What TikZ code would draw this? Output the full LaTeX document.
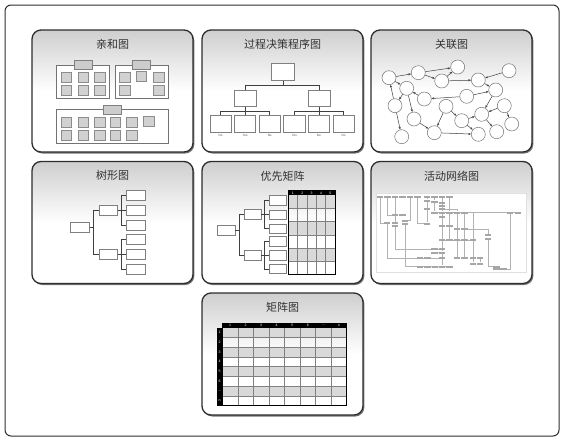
\documentclass[tikz,border=0pt]{standalone}
\usepackage{fontspec}
\setmainfont{Liberation Sans}
\newfontfamily\cjk{Noto Sans CJK SC}
\usepackage{tikz}
\usetikzlibrary{arrows.meta, positioning, shadows}
\definecolor{gristitre}{RGB}{50,50,50}
\definecolor{grisbord}{RGB}{45,45,45}

\begin{document}
\begin{tikzpicture}[x=1pt, y=-1pt,
		>=Stealth,
		cadre/.style={draw=grisbord, line width=1.3pt, rounded corners=9pt,
			top color=black!19, bottom color=white, middle color=white,
			drop shadow={shadow xshift=1.3pt, shadow yshift=-1.5pt, fill=black!55, opacity=1},
			minimum width=161pt, minimum height=122pt},
		titre/.style={font=\cjk\fontsize{11}{13}\selectfont, text=gristitre, inner sep=0pt},
		groupe/.style={draw=black!55, fill=white, line width=0.6pt, inner sep=0pt},
		entete/.style={draw=black!50, fill=black!20, line width=0.5pt,
			minimum width=18pt, minimum height=9pt, inner sep=0pt},
		carre/.style={draw=black!45, fill=black!18, line width=0.5pt,
			minimum width=10.5pt, minimum height=10pt, inner sep=0pt},
		boite/.style={draw=black!50, fill=white, line width=0.6pt, inner sep=0pt},
		lien/.style={draw=black!75, line width=0.6pt},
		etiq/.style={font=\fontsize{3}{3.5}\selectfont, text=black!70, inner sep=0pt},
		rond/.style={circle, draw=black!55, fill=white, line width=0.5pt,
			minimum size=14pt, inner sep=0pt},
		fleche/.style={-{Stealth[length=2.8pt, width=2.2pt]}, draw=black!75, line width=0.5pt},
		act/.style={fill=black!35, minimum width=6.4pt, minimum height=2pt, inner sep=0pt},
		fil/.style={draw=black!30, line width=0.3pt},
		grille/.style={draw=black!50, line width=0.4pt},
		num/.style={font=\fontsize{3.5}{4}\selectfont, text=white, inner sep=0pt}
		]
		\useasboundingbox (0,0) rectangle (563,442);
		\draw[draw=grisbord, line width=1pt, rounded corners=6pt] (5,5) rectangle (559,436);
		
		% Les cadres
		\node[cadre] (pA) at (112.5,91) {};
		\node[cadre] (pB) at (282.5,91) {};
		\node[cadre] (pC) at (451.5,91) {};
		\node[cadre] (pD) at (112.5,222.5) {};
		\node[cadre] (pE) at (282.5,222.5) {};
		\node[cadre] (pF) at (451.5,222.5) {};
		\node[cadre] (pG) at (282.5,354) {};
		\foreach \p/\t in {pA/亲和图, pB/过程决策程序图, pC/关联图, pD/树形图,
			pE/优先矩阵, pF/活动网络图, pG/矩阵图}
		\node[titre] (t\p) at ([yshift=-15pt]\p.north) {\t};
		
		% Affinites
		\node[groupe, minimum width=52.6pt, minimum height=33.3pt] (gA) at (83,81.7) {};
		\node[groupe, minimum width=53.3pt, minimum height=33.3pt] (gB) at (141.7,81.7) {};
		\node[groupe, minimum width=111.6pt, minimum height=34pt] (gC) at (112.5,126.7) {};
		\foreach \g in {gA,gB,gC}
		\node[entete] (h\g) at (\g.north) {};
		\foreach \x/\y [count=\i] in {66.3/77.7, 83/77.7, 99.7/77.7, 66.3/90.5, 83/90.5, 99.7/90.5,
			124.7/77.7, 141.3/76.5, 158.8/77.7, 124.7/90.5, 158.8/90.5,
			66.3/122, 83/122, 99.7/122, 115.3/122, 131.7/122, 148.8/121.7,
			66.3/135.3, 83/135.3, 99.7/135.3, 115.3/135.3, 131.7/135.3}
		\node[carre] (k\i) at (\x,\y) {};
		
		% PDPC
		\node[boite, minimum width=22.3pt, minimum height=17pt] (dR) at (282.8,71.8) {};
		\node[boite, minimum width=22.4pt, minimum height=16.7pt] (d1) at (245.5,98.3) {};
		\node[boite, minimum width=22.4pt, minimum height=16.7pt] (d2) at (319.2,98.3) {};
		\foreach \x [count=\i] in {220.5,245.1,269.7,294.3,318.9,343.5}
		\node[boite, minimum width=21.3pt, minimum height=17.3pt] (dF\i) at (\x,123.7) {};
		\foreach \i/\t in {1/No,2/Yes,3/No,4/Yes,5/No,6/No}
		\node[etiq, below=1.5pt of dF\i] (dL\i) {\t};
		\foreach \g in {d1,d2}
		\draw[lien] (dR.south) -- ++(0,4.7) -| (\g.north);
		\foreach \i in {1,2,3}
		\draw[lien] (d1.south) -- ++(0,4.3) -| (dF\i.north);
		\foreach \i in {4,5,6}
		\draw[lien] (d2.south) -- ++(0,4.3) -| (dF\i.north);
		
		% Relations
		\foreach \n/\x/\y in {1/389/77.7, 2/418.3/72.7, 3/457.7/67, 4/441.7/81, 5/509/70.7,
			6/478.3/80, 7/406.7/88.3, 8/395/105.7, 9/424.3/99, 10/446/106.3,
			11/466.7/96.3, 12/495.7/90, 13/414/119, 14/461.7/120.7, 15/481.7/114.3,
			16/504.3/105.7, 17/511.7/124, 18/401.7/136.7, 19/434.3/132.7,
			20/478.3/134.3, 21/496.7/131.7}
		\node[rond] (c\n) at (\x,\y) {};
		\foreach \a/\b in {1/2, 2/3, 2/4, 4/3, 4/6, 5/6, 6/12, 1/7, 8/1, 7/8, 8/18, 7/13,
			9/7, 11/9, 11/12, 12/15, 10/14, 14/15, 10/19, 13/19, 19/20, 16/17,
			14/20, 15/21, 16/15}
		\draw[fleche] (c\a) -- (c\b);
		
		% Arbre
		\node[boite, minimum width=18.6pt, minimum height=9.6pt] (aR) at (80,227.5) {};
		\node[boite, minimum width=18.7pt, minimum height=10pt] (aM1) at (108.3,210.3) {};
		\node[boite, minimum width=18.7pt, minimum height=10pt] (aM2) at (108.3,254.3) {};
		\foreach \y [count=\i] in {195.3,210.3,225.3,239.5,254.3,269}
		\node[boite, minimum width=18.3pt, minimum height=10pt] (aF\i) at (135.8,\y) {};
		\foreach \m in {aM1,aM2}
		\draw[lien] (aR.east) -- ++(4,0) |- (\m.west);
		\foreach \i in {1,2,3}
		\draw[lien] (aM1.east) -- ++(3.3,0) |- (aF\i.west);
		\foreach \i in {4,5,6}
		\draw[lien] (aM2.east) -- ++(3.3,0) |- (aF\i.west);
		
		% Priorites
		\node[boite, minimum width=17.3pt, minimum height=10pt] (qR) at (226.3,230.7) {};
		\node[boite, minimum width=17pt, minimum height=10pt] (qM1) at (252.5,214.3) {};
		\node[boite, minimum width=17pt, minimum height=10pt] (qM2) at (252.5,255.5) {};
		\foreach \y [count=\i] in {200.3,214.7,228.7,241.3,255.3,269}
		\node[boite, minimum width=17pt, minimum height=9.3pt] (qF\i) at (277.5,\y) {};
		\foreach \m in {qM1,qM2}
		\draw[lien] (qR.east) -- ++(4.3,0) |- (\m.west);
		\foreach \i in {1,2,3}
		\draw[lien] (qM1.east) -- ++(3.3,0) |- (qF\i.west);
		\foreach \i in {4,5,6}
		\draw[lien] (qM2.east) -- ++(3.3,0) |- (qF\i.west);
		\foreach \r in {0,2,4}
		\fill[black!15] (288.3,195.3+13.17*\r) rectangle ++(46.7,13.17);
		\foreach \c in {1,...,4}
		\draw[grille] (288.3+9.34*\c,195.3) -- ++(0,79);
		\foreach \r in {1,...,5}
		\draw[grille] (288.3,195.3+13.17*\r) -- ++(46.7,0);
		\fill[black] (288.3,190.7) rectangle (335,195.3);
		\draw[line width=0.8pt] (288.3,190.7) rectangle (335,274.3);
		\foreach \c in {1,...,5}
		\node[num] (qn\c) at (288.3+9.34*\c-4.67,193) {\c};
		
		% Reseau d'activites
		\node[draw=black!12, fill=white, minimum width=150pt, minimum height=79pt,
			inner sep=0pt] (rFond) at (451,232.5) {};
		\foreach \x/\y [count=\i] in {380/196.5, 387.5/196.5, 395/196.5, 402.5/196.5, 410/196.5,
			417.5/196.5, 427/196.5, 434.5/196.5, 442/196.5, 449.5/196.5,
			427/200.5, 434.5/201.5, 442/203, 442/206, 442/209, 427/209,
			434.5/212.5, 442/212.5, 449.5/212.5, 457/212.5, 464.5/212.5,
			395/215, 402.5/215, 442/217, 387/223, 395/223, 395/226,
			405/220.5, 405/223.5, 427/223.5, 442/226, 449.5/226, 457/229, 464.5/229,
			442/240, 449.5/240, 457/240, 464.5/240, 473/240, 488/235, 488/238.5,
			434.5/249, 442/249, 434.5/252.5, 442/252.5,
			420/258, 427.5/258, 442/258, 457/258, 464.5/258, 473/258, 480/258,
			420/266.5, 427.5/266.5, 435/266.5, 442/266.5, 449.5/266.5,
			473/263.5, 480/263.5, 496.5/266.5, 496.5/269, 503.5/269, 510/212.5, 518/212.5}
		\node[act] (n\i) at (\x,\y) {};
		\foreach \a/\b in {7/11, 11/16, 16/30, 9/13, 13/14, 14/15, 15/18, 18/24, 24/31,
			31/35, 35/43, 43/45, 45/48, 48/56, 10/19, 19/32, 32/36, 3/22, 22/26,
			18/19, 19/20, 20/21, 21/63, 63/64, 20/33, 33/37, 37/49, 21/34, 34/38,
			38/50, 39/51, 51/58, 52/59, 47/48, 55/56, 56/57, 46/47, 53/54, 54/55,
			35/36, 36/37, 37/38, 38/39, 8/12, 12/17, 17/18, 42/43, 44/45, 60/61}
		\draw[fil] (n\a) -- (n\b);
		\foreach \a/\b in {1/25, 2/22, 6/30, 27/42, 29/53, 41/60, 39/21, 63/62, 25/46, 5/28}
		\draw[fil] (n\a) |- (n\b);
		\foreach \a/\b in {34/40, 15/20}
		\draw[fil] (n\a) -| (n\b);
		
		% Matrice
		\foreach \r in {0,2,4,6}
		\fill[black!15] (222.3,327.7+9.72*\r) rectangle ++(124.4,9.72);
		\foreach \c in {1,...,7}
		\draw[grille] (222.3+15.55*\c,327.7) -- ++(0,77.8);
		\foreach \r in {1,...,7}
		\draw[grille] (222.3,327.7+9.72*\r) -- ++(124.4,0);
		\fill[black] (222.3,322.7) rectangle (346.7,327.7);
		\fill[black] (216.7,327.7) rectangle (222.3,405.5);
		\draw[line width=0.8pt] (222.3,327.7) rectangle (346.7,405.5);
		\foreach \t [count=\i] in {1,2,3,4,5,6,\dots,n} {
			\node[num] (mc\i) at (222.3+15.55*\i-7.78,325.2) {\t};
			\node[num] (ml\i) at (219.5,327.7+9.72*\i-4.86) {\t};
		}
	\end{tikzpicture}
\end{document}
